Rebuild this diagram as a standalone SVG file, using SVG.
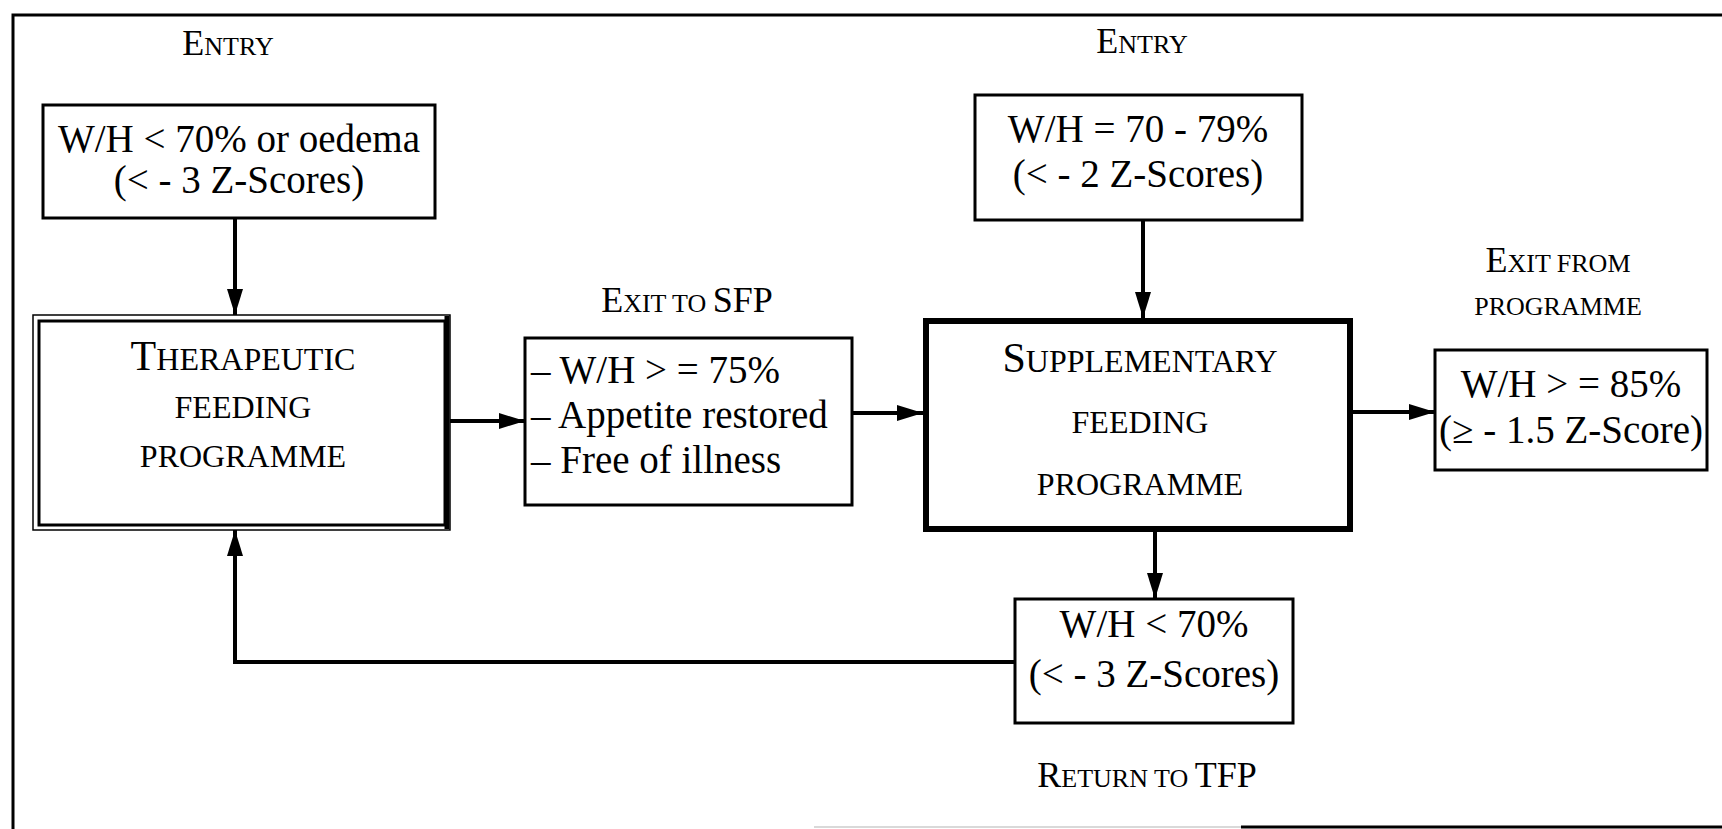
<svg xmlns="http://www.w3.org/2000/svg" width="1722" height="829" viewBox="0 0 1722 829">
<style>
.bx{fill:#fff;stroke:#000;stroke-width:3}
.t{font-family:"Liberation Serif","Times New Roman",serif;font-size:39px;fill:#000;text-anchor:middle}
.tl{font-family:"Liberation Serif","Times New Roman",serif;font-size:39px;fill:#000}
.lb{font-family:"Liberation Serif","Times New Roman",serif;font-size:26px;fill:#000;text-anchor:middle}
.big{font-size:36px}
.hd{font-family:"Liberation Serif","Times New Roman",serif;font-size:32px;fill:#000;text-anchor:middle}
.hbig{font-size:42px}
.c{fill:none;stroke:#000;stroke-width:4}
</style>
<defs>
<marker id="ah" markerUnits="userSpaceOnUse" markerWidth="26" markerHeight="16" refX="26" refY="8" orient="auto">
<path d="M0,0 L26,8 L0,16 z" fill="#000"/>
</marker>
</defs>
<rect width="1722" height="829" fill="#fff"/>
<g id="frame" fill="none" stroke="#000" stroke-width="3">
<path d="M1722,15 H13 V829"/>
<path d="M1241,827 H1722"/>
<path d="M814,827 H1241" stroke="#ccc" stroke-width="1.5"/>
</g>
<g id="connectors">
<path class="c" d="M235,218 V315" marker-end="url(#ah)"/>
<path class="c" d="M1143,220 V318" marker-end="url(#ah)"/>
<path class="c" d="M450,421 H525" marker-end="url(#ah)"/>
<path class="c" d="M852,413 H923" marker-end="url(#ah)"/>
<path class="c" d="M1353,412 H1435" marker-end="url(#ah)"/>
<path class="c" d="M1155,532 V599" marker-end="url(#ah)"/>
<path class="c" d="M1015,662 H235 V530" marker-end="url(#ah)"/>
</g>
<g id="entry1-label">
<text class="lb" x="228" y="55"><tspan class="big">E</tspan>NTRY</text>
</g>
<g id="entry1">
<rect class="bx" x="43" y="105" width="392" height="113"/>
<text class="t" x="239" y="152">W/H &lt; 70% or oedema</text>
<text class="t" x="239" y="193">(&lt; - 3 Z-Scores)</text>
</g>
<g id="tfp">
<rect x="33" y="315" width="417" height="215" fill="#fff" stroke="#000" stroke-width="1.5"/>
<rect x="39" y="321" width="406" height="204" fill="none" stroke="#000" stroke-width="3"/>
<path d="M447,316 V529" stroke="#000" stroke-width="5"/>
<text class="hd" x="243" y="370"><tspan class="hbig">T</tspan>HERAPEUTIC</text>
<text class="hd" x="243" y="418">FEEDING</text>
<text class="hd" x="243" y="467">PROGRAMME</text>
</g>
<g id="exit-sfp-label">
<text class="lb" x="687" y="312"><tspan class="big">E</tspan>XIT TO <tspan class="big">SFP</tspan></text>
</g>
<g id="exit-sfp">
<rect class="bx" x="525" y="338" width="327" height="167"/>
<text class="tl" x="531" y="383">– W/H &gt; = 75%</text>
<text class="tl" x="531" y="428">– Appetite restored</text>
<text class="tl" x="531" y="473">– Free of illness</text>
</g>
<g id="entry2-label">
<text class="lb" x="1142" y="53"><tspan class="big">E</tspan>NTRY</text>
</g>
<g id="entry2">
<rect class="bx" x="975" y="95" width="327" height="125"/>
<text class="t" x="1138" y="142">W/H = 70 - 79%</text>
<text class="t" x="1138" y="187">(&lt; - 2 Z-Scores)</text>
</g>
<g id="sfp">
<rect x="926" y="321" width="424" height="208" fill="#fff" stroke="#000" stroke-width="6"/>
<text class="hd" x="1140" y="372"><tspan class="hbig">S</tspan>UPPLEMENTARY</text>
<text class="hd" x="1140" y="433">FEEDING</text>
<text class="hd" x="1140" y="495">PROGRAMME</text>
</g>
<g id="exit-prog-label">
<text class="lb" x="1558" y="272"><tspan class="big">E</tspan>XIT FROM</text>
<text class="lb" x="1558" y="315">PROGRAMME</text>
</g>
<g id="exit-prog">
<rect class="bx" x="1435" y="350" width="272" height="120"/>
<text class="t" x="1571" y="397">W/H &gt; = 85%</text>
<text class="t" x="1571" y="443">(≥ - 1.5 Z-Score)</text>
</g>
<g id="return">
<rect class="bx" x="1015" y="599" width="278" height="124"/>
<text class="t" x="1154" y="637">W/H &lt; 70%</text>
<text class="t" x="1154" y="687">(&lt; - 3 Z-Scores)</text>
</g>
<g id="return-label">
<text class="lb" x="1147" y="787"><tspan class="big">R</tspan>ETURN TO <tspan class="big">TFP</tspan></text>
</g>
</svg>
